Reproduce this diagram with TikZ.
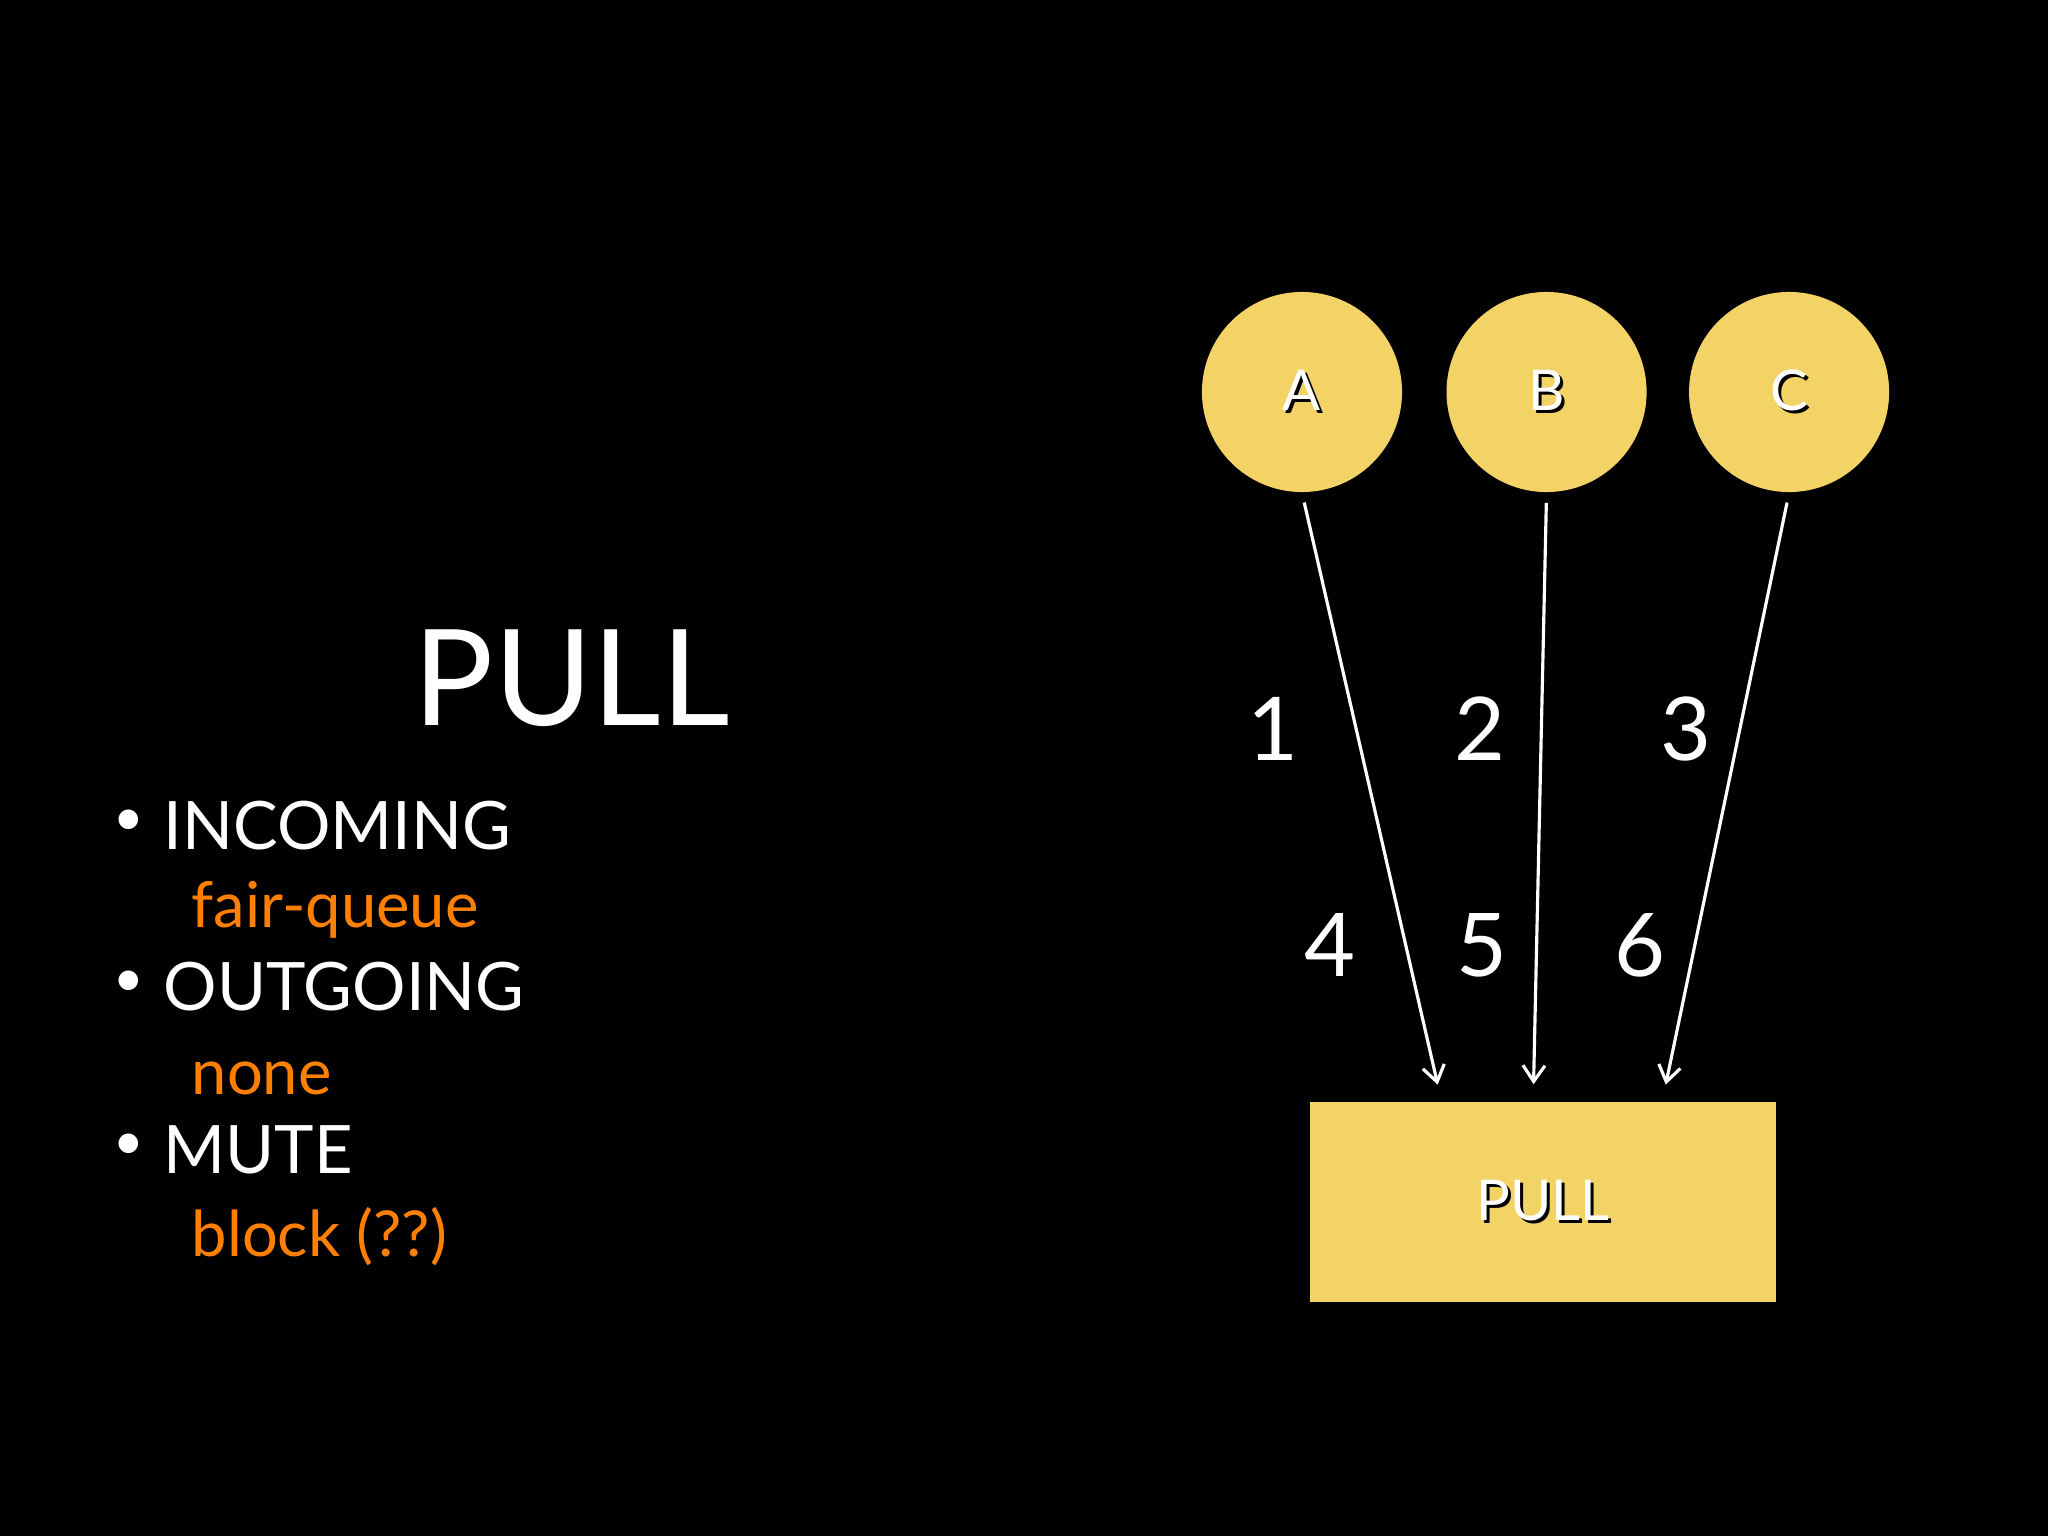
\documentclass[tikz,border=0pt]{standalone}
\usepackage{fontspec}
\setmainfont{Lato}
\usetikzlibrary{arrows.meta, positioning, calc}
\definecolor{padyellow}{RGB}{243,211,102}
\definecolor{pullorange}{RGB}{255,128,0}
\newcommand{\dropshadow}[1]{\rlap{\kern0.8pt\raisebox{-0.8pt}{\color{black}#1}}{\color{white}#1}}
\tikzset{
  disc/.style={circle, fill=padyellow, minimum size=2cm, inner sep=0pt,
               font=\fontsize{16}{18}\selectfont},
  queuebox/.style={rectangle, fill=padyellow, minimum width=4.66cm, minimum height=2cm,
                   font=\fontsize{16}{18}\selectfont},
  arrow/.style={line width=0.9pt, white, -{Straight Barb[length=1.6mm, width=2.2mm]},
                shorten <=0.1cm, shorten >=0.17cm},
  num/.style={text=white, anchor=base, inner sep=0pt, font=\fontsize{25}{28}\selectfont},
  item/.style={text=white, anchor=base west, inner sep=0pt, font=\fontsize{19}{22}\selectfont},
  dot/.style={text=white, anchor=center, inner sep=0pt, font=\fontsize{15}{18}\selectfont},
  opt/.style={text=pullorange, anchor=base west, inner sep=0pt, font=\fontsize{18}{22}\selectfont}
}
\begin{document}
\begin{tikzpicture}[x=0.01cm, y=-0.01cm]
    % Background
    \fill[black] (0,0) rectangle (2048,1536);

    % Title and list
    \node[text=white, anchor=base west, inner sep=0pt, font=\fontsize{38}{44}\selectfont] (title) at (413,725) {PULL};
    \node[dot] (dot1) at (129,823) {•};
    \node[item] (in) at (163,849) {INCOMING};
    \node[opt] (fq) at (191,927) {fair-queue};
    \node[dot] (dot2) at (129,984) {•};
    \node[item] (out) at (163,1010) {OUTGOING};
    \node[opt] (none) at (191,1094) {none};
    \node[dot] (dot3) at (129,1147) {•};
    \node[item] (mute) at (163,1173) {MUTE};
    \node[opt] (blk) at (191,1256) {block (??)};

    % Peers
    \node[disc] (a) at (1302,392) {\dropshadow{A}};
    \node[disc, right=0.43cm of a] (b) {\dropshadow{B}};
    \node[disc, right=0.41cm of b] (c) {\dropshadow{C}};

    % Pull socket
    \node[queuebox] (pull) at (1543,1202) {\dropshadow{PULL}};

    % Arrows
    \coordinate (ta) at ($(pull.north west)!0.283!(pull.north east)$);
    \coordinate (tb) at ($(pull.north west)!0.479!(pull.north east)$);
    \coordinate (tc) at ($(pull.north west)!0.755!(pull.north east)$);
    \draw[arrow] (a.south) -- (ta);
    \draw[arrow] (b.south) -- (tb);
    \draw[arrow] (c.south) -- (tc);

    % Message order
    \node[num] (n1) at (1273,760) {1};
    \node[num] (n2) at (1480,760) {2};
    \node[num] (n3) at (1686,760) {3};
    \node[num] (n4) at (1330,976) {4};
    \node[num] (n5) at (1482,976) {5};
    \node[num] (n6) at (1640,976) {6};
\end{tikzpicture}
\end{document}
